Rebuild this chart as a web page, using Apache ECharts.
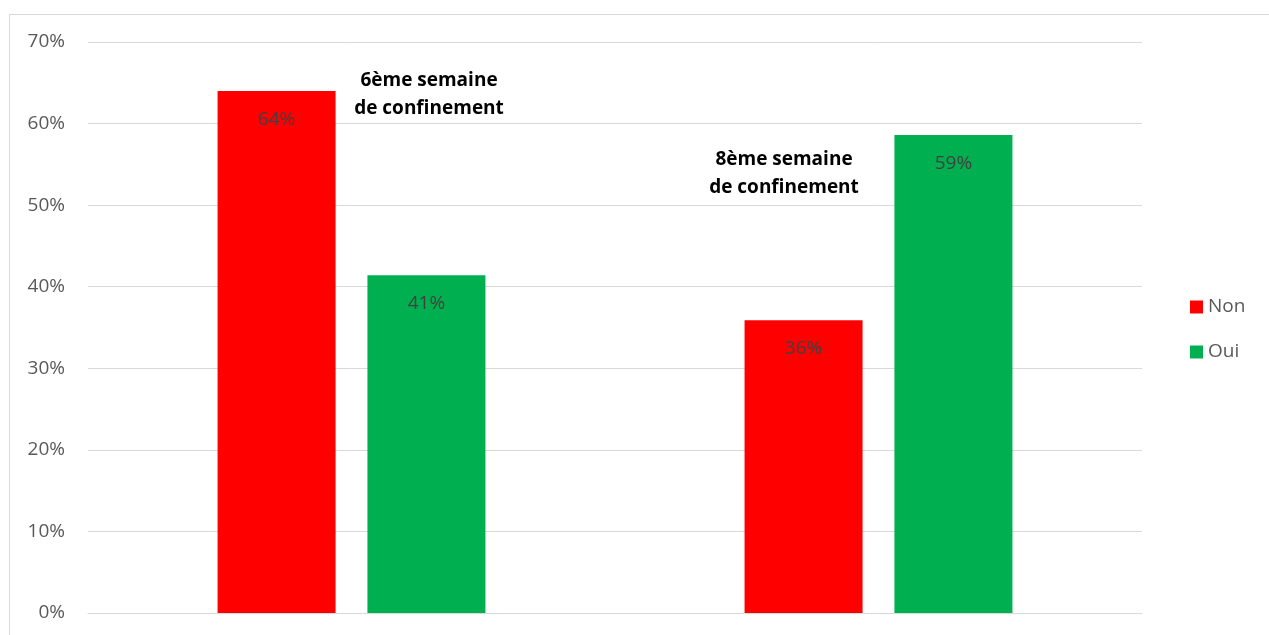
<!DOCTYPE html>
<html><head><meta charset="utf-8">
<script src="https://cdn.jsdelivr.net/npm/echarts@6/dist/echarts.min.js"></script>
<style>html,body{margin:0;padding:0;background:#fff}#c{width:1269px;height:635px}</style>
</head><body><div id="c"></div>
<script>
const categories = ['6ème semaine de confinement', '8ème semaine de confinement'];
const nonValues = [0.64, 0.359];
const ouiValues = [0.414, 0.586];
const yTicks = [0, 0.1, 0.2, 0.3, 0.4, 0.5, 0.6, 0.7];
const annotations = ['6ème semaine\nde confinement', '8ème semaine\nde confinement'];

const FONT = '"Open Sans", sans-serif';
const chart = echarts.init(document.getElementById('c'));
const labelCfg = {
  show: true, position: 'insideTop', distance: 19,
  color: '#404040', fontSize: 19, fontFamily: FONT,
  formatter: p => Math.round(p.value * 100) + '%'
};
chart.setOption({
  animation: false,
  backgroundColor: '#fff',
  grid: { left: 88, right: 127, top: 42, bottom: 22 },
  legend: {
    orient: 'vertical', left: 1185, top: 292,
    itemWidth: 13, itemHeight: 13, itemGap: 25,
    icon: 'rect',
    textStyle: { color: '#595959', fontSize: 19, fontFamily: FONT, lineHeight: 20 },
    data: ['Non', 'Oui']
  },
  xAxis: {
    type: 'category', data: categories,
    axisLine: { show: true, lineStyle: { color: '#d9d9d9', width: 1 } },
    axisTick: { show: false }, axisLabel: { show: false }
  },
  yAxis: {
    type: 'value', min: yTicks[0], max: yTicks[yTicks.length - 1], interval: 0.1,
    axisLine: { show: false }, axisTick: { show: false },
    splitLine: { lineStyle: { color: '#d9d9d9', width: 1 } },
    axisLabel: {
      color: '#595959', fontSize: 19, fontFamily: FONT, margin: 23,
      formatter: v => Math.round(v * 100) + '%'
    }
  },
  series: [
    { name: 'Non', type: 'bar', data: nonValues, barWidth: 118, barGap: '27%',
      itemStyle: { color: '#ff0000' }, label: labelCfg },
    { name: 'Oui', type: 'bar', data: ouiValues, barWidth: 118, barGap: '27%',
      itemStyle: { color: '#00b050' }, label: labelCfg }
  ],
  graphic: [
    { type: 'rect', left: 7, top: 12, shape: { width: 1300, height: 700 }, silent: true,
      style: { fill: 'none', stroke: '#d9d9d9', lineWidth: 1 }, z: -1 },
    { type: 'text', x: 429, y: 67, style: { text: annotations[0], textAlign: 'center',
      font: 'bold 19px "Open Sans", sans-serif', lineHeight: 28, fill: '#000' } },
    { type: 'text', x: 784, y: 146, style: { text: annotations[1], textAlign: 'center',
      font: 'bold 19px "Open Sans", sans-serif', lineHeight: 28, fill: '#000' } }
  ]
});
</script></body></html>
